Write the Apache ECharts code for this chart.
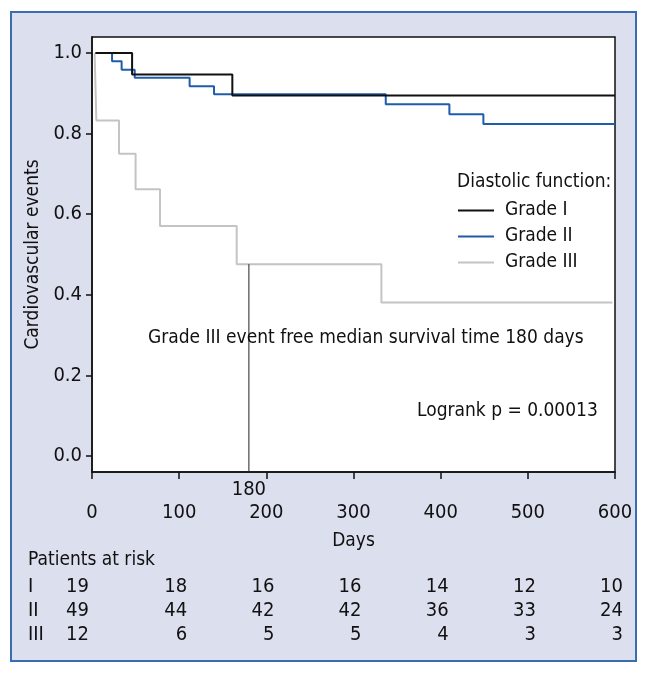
<!DOCTYPE html>
<html><head><meta charset="utf-8">
<script src="https://cdn.jsdelivr.net/npm/echarts@6/dist/echarts.min.js"></script>
<style>html,body{margin:0;padding:0;background:#fff;}#c{width:648px;height:676px;}</style>
</head><body><div id="c"></div>
<script>
var FONT = "'DejaVu Sans Condensed','DejaVu Sans',sans-serif";
var xTicks = [0, 100, 200, 300, 400, 500, 600];
var yTicks = [0.0, 0.2, 0.4, 0.6, 0.8, 1.0];
var gradeI = [[4,1],[46,0.947],[161,0.895],[600,0.895]];
var gradeII = [[4,1],[23,0.980],[34,0.959],[49,0.939],[112,0.918],[140,0.898],[337,0.873],[410,0.848],[449,0.824],[600,0.824]];
var gradeIII = [[3,1],[4,0.917],[5,0.833],[31,0.75],[50,0.662],[78,0.571],[166,0.476],[332,0.381],[597,0.381]];
var medianDay = 180;
var medianSurv = 0.476;
var yMin = -0.04, yMax = 1.04;
var riskLabels = ['I','II','III'];
var riskI = [19,18,16,16,14,12,10];
var riskII = [49,44,42,42,36,33,24];
var riskIII = [12,6,5,5,4,3,3];

var chart = echarts.init(document.getElementById('c'), null, {renderer:'canvas'});
var option = {
  backgroundColor: '#fff',
  animation: false,
  grid: {left: 92, right: 33, top: 37, height: 435, show: true, backgroundColor: '#fff', borderColor: '#111', borderWidth: 1.5},
  xAxis: {type: 'value', min: 0, max: 600, interval: 100,
    axisLine: {show: true, onZero: false, lineStyle: {color: '#111', width: 1.5}},
    axisTick: {show: true, length: 7, lineStyle: {color: '#111', width: 1.5}},
    axisLabel: {fontFamily: FONT, fontSize: 20, color: '#111', margin: 31},
    splitLine: {show: false},
    name: 'Days', nameLocation: 'middle', nameGap: 60, nameTextStyle: {fontFamily: FONT, fontSize: 19, color: '#111'}
  },
  yAxis: {type: 'value', min: yMin, max: yMax,
    axisLine: {show: true, onZero: false, lineStyle: {color: '#111', width: 1.5}},
    axisTick: {show: true, length: 6, customValues: yTicks, lineStyle: {color: '#111', width: 1.5}},
    axisLabel: {customValues: yTicks, fontFamily: FONT, fontSize: 20, color: '#111', margin: 10, formatter: function(v){return v.toFixed(1);}},
    splitLine: {show: false},
    name: 'Cardiovascular events', nameLocation: 'middle', nameGap: 48, nameTextStyle: {fontFamily: FONT, fontSize: 19, color: '#111'}
  },
  legend: {show: true, orient: 'vertical', left: 453, top: 196, itemWidth: 36, itemHeight: 14, itemGap: 7,
    textStyle: {fontFamily: FONT, fontSize: 19, color: '#111', padding: [0,0,0,6]}, icon: 'path://M0,6 L36,6 L36,7.8 L0,7.8 Z',
    data: ['Grade I','Grade II','Grade III']},
  series: [
    {name: 'Grade III', type: 'line', step: 'end', data: gradeIII, symbol: 'none', lineStyle: {color: '#c4c4c4', width: 2}, itemStyle: {color: '#c4c4c4'}, z: 2},
    {name: 'Grade II', type: 'line', step: 'end', data: gradeII, symbol: 'none', lineStyle: {color: '#1f5daa', width: 2}, itemStyle: {color: '#1f5daa'}, z: 3},
    {name: 'Grade I', type: 'line', step: 'end', data: gradeI, symbol: 'none', lineStyle: {color: '#111', width: 2}, itemStyle: {color: '#111'}, z: 4},
    {name: 'median', type: 'line', data: [[medianDay, medianSurv],[medianDay, yMin]], symbol: 'none', lineStyle: {color: '#222', width: 1}, z: 5, silent: true},
    {name: 'medianLabel', type: 'scatter', data: [[medianDay, yMin]], symbolSize: 0, silent: true, z: 6,
      itemStyle: {opacity: 1, color: '#111'},
      label: {show: true, position: 'bottom', distance: 8, formatter: String(medianDay), fontFamily: FONT, fontSize: 20, color: '#111', opacity: 1}}
  ]
};
chart.setOption(option);

var g = [];
g.push({type: 'rect', z: -10, shape: {x: 11, y: 12, width: 625, height: 649}, style: {fill: '#dcdfee', stroke: '#3a6cb1', lineWidth: 2}});
g.push({type: 'text', z: 10, left: 457, top: 173, style: {text: 'Diastolic function:', font: '19px ' + FONT, fill: '#111'}});
g.push({type: 'text', z: 10, left: 148, top: 329, style: {text: 'Grade III event free median survival time 180 days', font: '19px ' + FONT, fill: '#111'}});
g.push({type: 'text', z: 10, left: 417, top: 402, style: {text: 'Logrank p = 0.00013', font: '19px ' + FONT, fill: '#111'}});
g.push({type: 'text', z: 10, left: 28, top: 551, style: {text: 'Patients at risk', font: '19px ' + FONT, fill: '#111'}});
var rows = [riskI, riskII, riskIII];
var rowY = [577, 601, 625];
for (var r = 0; r < rows.length; r++) {
  g.push({type: 'text', z: 10, left: 28, top: rowY[r], style: {text: riskLabels[r], font: '20px ' + FONT, fill: '#111'}});
  for (var j = 0; j < rows[r].length; j++) {
    var px = chart.convertToPixel({xAxisIndex: 0}, xTicks[j]);
    var xr = (j === 0) ? px - 3 : px + 8;
    g.push({type: 'text', z: 10, x: xr, y: rowY[r], style: {text: String(rows[r][j]), font: '20px ' + FONT, fill: '#111', textAlign: 'right', textVerticalAlign: 'top'}});
  }
}
chart.setOption({graphic: g});
</script></body></html>
